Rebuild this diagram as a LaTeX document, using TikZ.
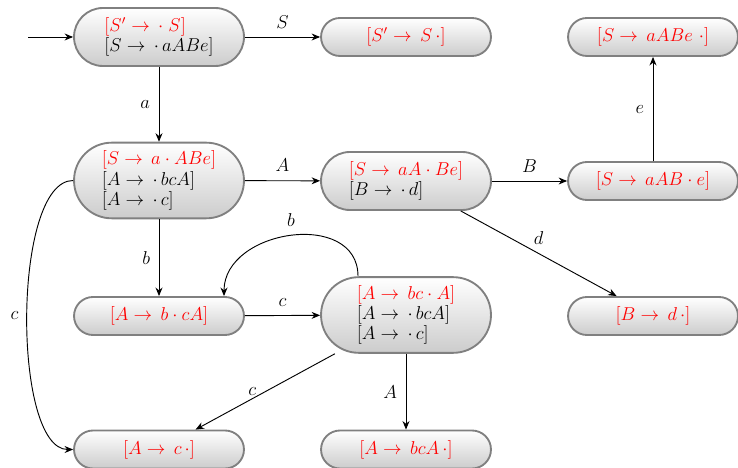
\documentclass[tikz,border=0pt]{standalone}
\usetikzlibrary{arrows.meta,calc}
\newcommand{\goesto}{\rightarrow\,}
\begin{document}
\begin{tikzpicture}[x=0.645pt,y=-0.645pt,
  font=\fontsize{12}{13}\selectfont,
  state/.style={draw=black!50, line width=1.2pt, top color=white, bottom color=black!20,
    minimum width=109.6pt, align=left, inner sep=2pt},
  small/.style={state, minimum height=24.5pt, rounded corners=12.2pt},
  mid/.style={state, minimum height=37.4pt, rounded corners=18.6pt},
  big/.style={state, minimum height=48.8pt, rounded corners=24.3pt},
  edge/.style={-{Stealth[length=5.5pt,width=4.5pt]}, line width=0.6pt, black},
  lab/.style={inner sep=5.5pt}]
\useasboundingbox (0,0) rectangle (738,468);
% LR(0) item sets
\node[mid] (q0) at (159,37) {{\color{red}$[S' \goesto \cdot\;S]$}\\$[S \goesto \cdot\, aABe]$};
\node[small] (q1) at (406,37) {\color{red}$[S' \goesto S\, \cdot]$};
\node[small] (q9) at (653,37) {\color{red}$[S \goesto aABe\ \cdot]$};
\node[big] (q2) at (159,180.5) {{\color{red}$[S \goesto a \cdot ABe]$}\\$[A \goesto \cdot\, bcA]$\\$[A \goesto \cdot\, c]$};
\node[mid] (q3) at (406,181) {{\color{red}$[S \goesto aA \cdot Be]$}\\$[B \goesto \cdot\, d]$};
\node[small] (q8) at (653,181) {\color{red}$[S \goesto aAB \cdot e]$};
\node[small] (q4) at (159,316) {\color{red}$[A \goesto b \cdot cA]$};
\node[big] (q5) at (406,315) {{\color{red}$[A \goesto bc \cdot A]$}\\$[A \goesto \cdot\, bcA]$\\$[A \goesto \cdot\, c]$};
\node[small] (q7) at (653,316) {\color{red}$[B \goesto d\, \cdot]$};
\node[small] (q6) at (159,449.5) {\color{red}$[A \goesto c\, \cdot]$};
\node[small] (q10) at (406,449.5) {\color{red}$[A \goesto bcA\, \cdot]$};

% transitions
\coordinate (start) at (28,37);
\draw[edge] (start) -- (q0);
\draw[edge] (q0) -- node[lab,above] {$S$} (q1);
\draw[edge] (q0) -- node[lab,left] {$a$} (q2);
\draw[edge] (q2) -- node[lab,above] {$A$} (q3);
\draw[edge] (q3) -- node[lab,above] {$B$} (q8);
\draw[edge] (q8) -- node[lab,left] {$e$} (q9);
\draw[edge] (q3) -- node[lab,above,pos=0.5] {$d$} (q7);
\draw[edge] (q2) -- node[lab,left] {$b$} (q4);
\draw[edge] (q2.west) .. controls +(-61,0) and +(-61,0) .. node[lab,left] {$c$} (q6.west);
\draw[edge] (q4) -- node[lab,above] {$c$} (q5);
\coordinate (loopA) at ($(q5.north)+(-48,0)$);
\coordinate (loopB) at ($(q4.north)+(65,0)$);
\draw[edge] (loopA) .. controls +(0,-67) and +(0,-67) .. node[lab,above] {$b$} (loopB);
\draw[edge] (q5) -- node[lab,left,pos=0.5] {$c$} (q6);
\draw[edge] (q5) -- node[lab,left] {$A$} (q10);
\end{tikzpicture}
\end{document}
